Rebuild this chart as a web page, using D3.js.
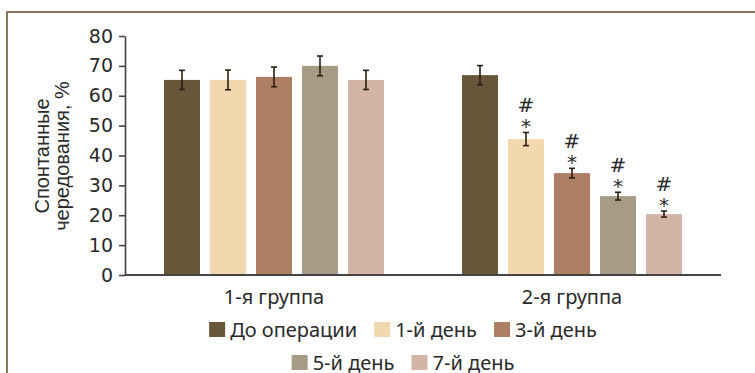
<!DOCTYPE html>
<html>
<head>
<meta charset="utf-8">
<script src="https://cdn.jsdelivr.net/npm/d3@7"></script>
<style>
  html, body { margin: 0; padding: 0; background: #fff; }
  svg { display: block; }
</style>
</head>
<body>
<svg id="chart" width="755" height="373"></svg>
<script>
// Groups on the x axis and the five time points within each group
const groups = ["1-я группа", "2-я группа"];
const periods = ["До операции", "1-й день", "3-й день", "5-й день", "7-й день"];
const colors = ["#675638", "#f2d8ae", "#ad7f64", "#a69b85", "#d2b5a5"];

// Spontaneous alternation, % (mean and error) per group, by period
const meanGroup1 = [65.3, 65.3, 66.3, 70.0, 65.3];
const errGroup1 = [3.2, 3.3, 3.3, 3.3, 3.2];
const meanGroup2 = [66.9, 45.5, 34.1, 26.4, 20.4];
const errGroup2 = [3.2, 2.2, 1.6, 1.3, 1.0];
// significance marks: "#" over "*" above the bar
const marksGroup1 = [false, false, false, false, false];
const marksGroup2 = [false, true, true, true, true];

const yTicks = [0, 10, 20, 30, 40, 50, 60, 70, 80];

const rows = [];
[[meanGroup1, errGroup1, marksGroup1], [meanGroup2, errGroup2, marksGroup2]].forEach((g, gi) => {
  periods.forEach((p, pi) => {
    rows.push({ group: groups[gi], period: p, value: g[0][pi], err: g[1][pi], mark: g[2][pi] });
  });
});

const svg = d3.select("#chart");
const textColor = "#2a2a2a";

// outer frame (top and left rules)
svg.append("path")
  .attr("d", "M7,373 V12 H755")
  .attr("fill", "none")
  .attr("stroke", "#85775b")
  .attr("stroke-width", 2);

const plot = { left: 125, right: 721, top: 36, bottom: 275 };

const x0 = d3.scaleBand().domain(groups).range([plot.left, plot.right]).padding(0);
const innerWidth = 230;
const x1 = d3.scaleBand().domain(periods)
  .range([(x0.bandwidth() - innerWidth) / 2, (x0.bandwidth() + innerWidth) / 2])
  .paddingInner(10 / 46).paddingOuter(5 / 46);
const y = d3.scaleLinear().domain([0, 80]).range([plot.bottom, plot.top]);
const color = d3.scaleOrdinal().domain(periods).range(colors);

// bars
svg.append("g").selectAll("rect").data(rows).join("rect")
  .attr("x", d => x0(d.group) + x1(d.period))
  .attr("width", x1.bandwidth())
  .attr("y", d => y(d.value))
  .attr("height", d => y(0) - y(d.value))
  .attr("fill", d => color(d.period));

// error bars
const gErr = svg.append("g").attr("stroke", "#2b1e12").attr("stroke-width", 1.6);
rows.forEach(d => {
  const cx = x0(d.group) + x1(d.period) + x1.bandwidth() / 2;
  const y1 = y(d.value + d.err), y2 = y(d.value - d.err);
  gErr.append("line").attr("x1", cx).attr("x2", cx).attr("y1", y1).attr("y2", y2);
  gErr.append("line").attr("x1", cx - 3).attr("x2", cx + 3).attr("y1", y1).attr("y2", y1);
  gErr.append("line").attr("x1", cx - 3).attr("x2", cx + 3).attr("y1", y2).attr("y2", y2);
});

// significance marks, stacked in one text element
const gMarks = svg.append("g").attr("fill", textColor).attr("text-anchor", "middle")
  .style("font-family", "'DejaVu Sans', sans-serif").style("font-size", "20px");
rows.filter(d => d.mark).forEach(d => {
  const cx = x0(d.group) + x1(d.period) + x1.bandwidth() / 2;
  const top = y(d.value + d.err);
  const t = gMarks.append("text");
  t.append("tspan").attr("x", cx).attr("y", top - 20).text("#");
  t.append("tspan").attr("x", cx).attr("y", top + 1).text("*");
});

// y axis
const yAxis = svg.append("g")
  .attr("transform", `translate(${plot.left},0)`)
  .call(d3.axisLeft(y).tickValues(yTicks).tickSize(6).tickPadding(6).tickSizeOuter(0));
yAxis.select(".domain").attr("stroke", "#444").attr("stroke-width", 1.6);
yAxis.selectAll(".tick line").attr("stroke", "#444").attr("stroke-width", 1.6);
yAxis.selectAll(".tick text")
  .style("font-family", "'DejaVu Sans', sans-serif")
  .style("font-size", "19px").attr("fill", textColor);

// baseline
svg.append("line")
  .attr("x1", plot.left).attr("x2", plot.right)
  .attr("y1", y(0)).attr("y2", y(0))
  .attr("stroke", "#444").attr("stroke-width", 1.8);

// y axis title
const yTitle = svg.append("text")
  .attr("transform", "translate(0,156) rotate(-90)")
  .attr("text-anchor", "middle")
  .style("font-family", "'Liberation Sans', Arial, sans-serif")
  .style("font-size", "20px").attr("fill", textColor);
yTitle.append("tspan").attr("x", 0).attr("y", 49).text("Спонтанные");
yTitle.append("tspan").attr("x", 0).attr("y", 69).text("чередования, %");

// group labels
svg.append("g").selectAll("text").data(groups).join("text")
  .attr("x", d => x0(d) + x0.bandwidth() / 2)
  .attr("y", 304)
  .attr("text-anchor", "middle")
  .style("font-family", "'Noto Sans', sans-serif")
  .style("font-size", "20px").attr("fill", textColor)
  .text(d => d);

// legend in two centred rows
const legendRows = [periods.slice(0, 3), periods.slice(3)];
const legendBaselines = [337, 370];
const legendCenter = 403;
legendRows.forEach((items, ri) => {
  const g = svg.append("g");
  let cursor = 0;
  items.forEach(p => {
    const item = g.append("g").attr("transform", `translate(${cursor},0)`);
    item.append("rect").attr("x", 0).attr("y", legendBaselines[ri] - 15)
      .attr("width", 16).attr("height", 15).attr("fill", color(p));
    const t = item.append("text").attr("x", 21).attr("y", legendBaselines[ri])
      .style("font-family", "'Noto Sans', sans-serif")
      .style("font-size", "20px").attr("fill", textColor).text(p);
    const w = t.node().getComputedTextLength();
    cursor += 21 + w + 17;
  });
  const total = cursor - 17;
  g.attr("transform", `translate(${legendCenter - total / 2},0)`);
});
</script>
</body>
</html>
